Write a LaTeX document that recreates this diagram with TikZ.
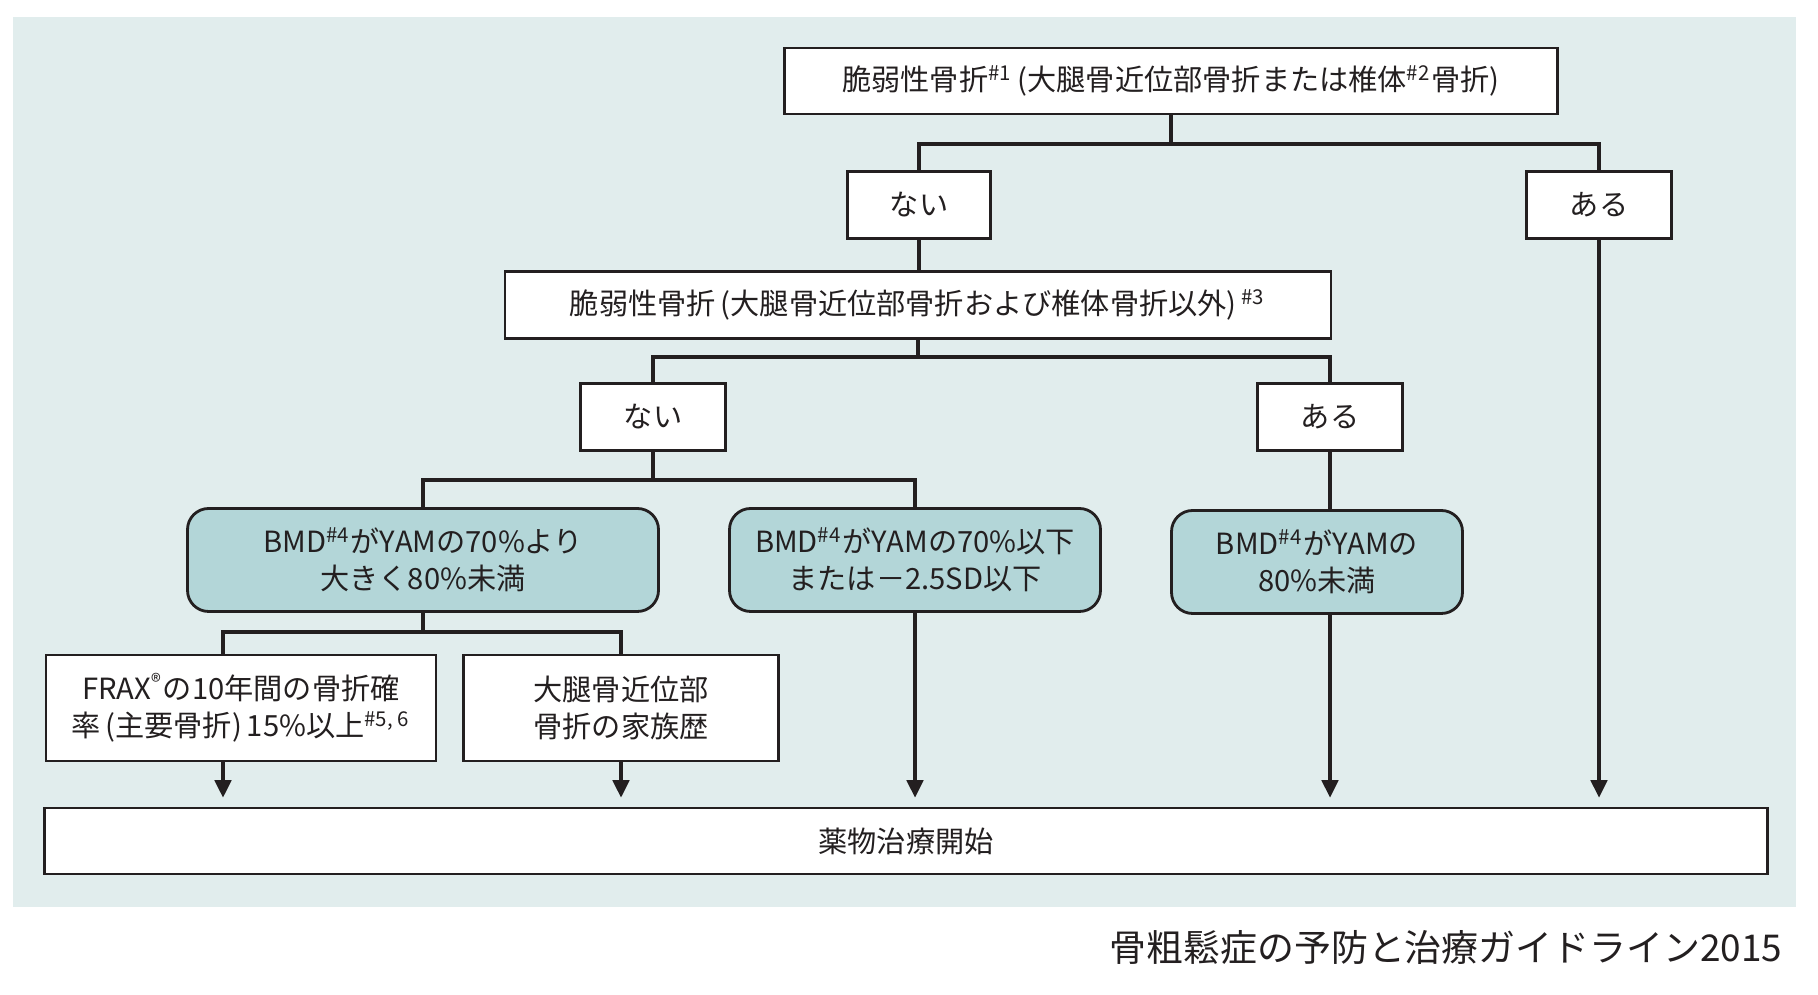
\documentclass[tikz,border=0pt]{standalone}
\usepackage{fontspec}
\setmainfont{Noto Sans CJK JP}
\usepackage{xcolor}
\usepackage{tikz}
\usetikzlibrary{arrows.meta}
\usetikzlibrary{calc}
\definecolor{bgblue}{HTML}{E1EDED}
\definecolor{boxteal}{HTML}{B3D6D8}
\definecolor{ink}{HTML}{231F20}
\tikzstyle{box}=[rectangle,draw=ink,fill=white,line width=0.8pt,inner sep=0pt,align=center,text=ink,font=\fontsize{8.3}{10.5}\selectfont]
\tikzstyle{rbox}=[box,fill=boxteal,rounded corners=6pt]
\tikzstyle{link}=[draw=ink,line width=1.1pt]
\tikzset{go/.style={link,-{Triangle[length=5pt,width=4.6pt]},shorten >=2.5pt}}

\begin{document}
\begin{tikzpicture}[x=0.01cm,y=-0.01cm]

  \useasboundingbox (0,0) rectangle (1818,995);
  \fill[bgblue] (13,17) rectangle (1796,907);

  \def\u{0.01cm};

  % white boxes
  \foreach \px/\py/\bw/\bh/\name/\label in {
      1171/81/773/66/top/{脆弱性骨折\textsuperscript{\#1}\,(大腿骨近位部骨折または椎体\textsuperscript{\#2}骨折)},
      919/205/143/67/nai1/{ない},
      1599/205/145/67/aru1/{ある},
      918/305/826/67/mid/{脆弱性骨折\,(大腿骨近位部骨折および椎体骨折以外)\,\textsuperscript{\#3}},
      653/417/145/67/nai2/{ない},
      1330/417/145/67/aru2/{ある},
      241/708/390/106/frax/{FRAX\textsuperscript{®}の10年間の骨折確\\率\,(主要骨折)\,15\%以上\textsuperscript{\#5, 6}},
      621/708/315/106/fam/{大腿骨近位部\\骨折の家族歴},
      906/841/1723/66/start/{薬物治療開始}}
        \node[box,minimum width=\bw*\u,minimum height=\bh*\u] (\name) at (\px,\py) {\label};

  % rounded BMD boxes
  \foreach \px/\py/\bw/\bh/\name/\label in {
      423/560/471/103/bmdA/{BMD\textsuperscript{\#4}がYAMの70\%より\\大きく80\%未満},
      915/560/371/103/bmdB/{BMD\textsuperscript{\#4}がYAMの70\%以下\\または－2.5SD以下},
      1317/562/291/103/bmdC/{BMD\textsuperscript{\#4}がYAMの\\80\%未満}}
        \node[rbox,minimum width=\bw*\u,minimum height=\bh*\u] (\name) at (\px,\py) {\label};

  \node[anchor=east,inner sep=0pt,text=ink,font=\fontsize{10.5}{12}\selectfont] (src) at (1783,947) {骨粗鬆症の予防と治療ガイドライン2015};

  % branch levels
  \coordinate (j1) at (0,144);
  \coordinate (j2) at (0,357);
  \coordinate (j3) at (0,480);
  \coordinate (j4) at (0,632);
  \coordinate (fl) at (223,0);

  \draw[link] (top.south) -- (top.south |- j1);
  \draw[link] (nai1.north) -- (nai1.north |- j1) -- (aru1.north |- j1) -- (aru1.north);
  \draw[link] (nai1.south) -- (nai1.south |- mid.north);
  \draw[link] (mid.south) -- (mid.south |- j2);
  \draw[link] (nai2.north) -- (nai2.north |- j2) -- (aru2.north |- j2) -- (aru2.north);
  \draw[link] (nai2.south) -- (nai2.south |- j3);
  \draw[link] (bmdA.north) -- (bmdA.north |- j3) -- (bmdB.north |- j3) -- (bmdB.north);
  \draw[link] (aru2.south) -- (aru2.south |- bmdC.north);
  \draw[link] (bmdA.south) -- (bmdA.south |- j4);
  \draw[link] (fl |- frax.north) -- (fl |- j4) -- (fam.north |- j4) -- (fam.north);

  % into treatment
  \foreach \src in {fam, bmdB, aru1}
    \draw[go] (\src.south) -- (\src.south |- start.north);
  \draw[go] (fl |- frax.south) -- (fl |- start.north);
  \draw[go] (aru2 |- bmdC.south) -- (aru2 |- start.north);

\end{tikzpicture}
\end{document}
